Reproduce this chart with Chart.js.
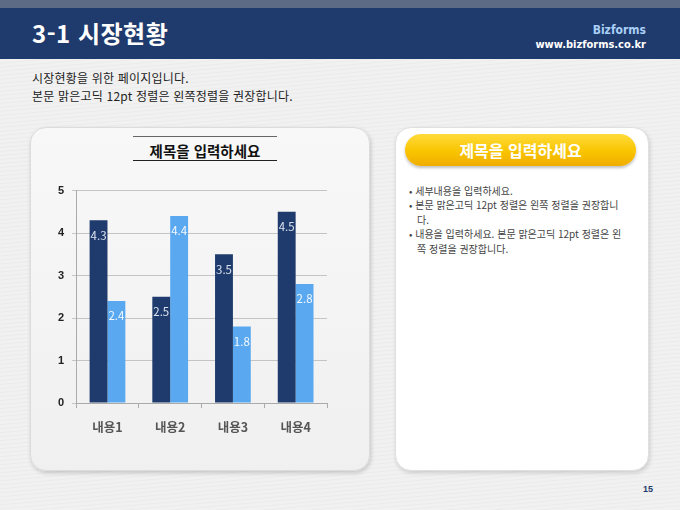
<!DOCTYPE html>
<html lang="ko">
<head>
<meta charset="utf-8">
<script src="https://cdn.jsdelivr.net/npm/chart.js@4/dist/chart.umd.min.js"></script>
<style>
    html, body { margin: 0; padding: 0; }
    body {
        width: 680px; height: 510px; position: relative; overflow: hidden;
        font-family: "Noto Sans CJK KR", "Noto Sans", sans-serif;
        background: repeating-linear-gradient(175deg, #f1f1f1 0px, #f1f1f1 2px, #ebebeb 3px, #f1f1f1 4px);
    }
    .topStrip { position: absolute; left: 0; top: 0; width: 680px; height: 8px; background: #5d6c84; }
    .header { position: absolute; left: 0; top: 8px; width: 680px; height: 51px; background: #1f3a6c; }
    .header h1 { position: absolute; left: 32px; top: 7px; margin: 0; color: #fff; font-size: 24px; font-weight: bold; letter-spacing: 0.5px; }
    .brand { position: absolute; right: 34px; top: 15px; color: #a9cff6; font-family: "DejaVu Sans Condensed", "Liberation Sans Narrow", sans-serif; font-size: 12px; font-weight: bold; text-align: right; }
    .url { position: absolute; right: 34px; top: 30px; color: #fff; font-family: "DejaVu Sans Condensed", "Liberation Sans Narrow", sans-serif; font-size: 11px; font-weight: bold; }
    .intro { position: absolute; left: 32px; top: 69px; font-size: 12px; line-height: 18px; color: #222; letter-spacing: 0.2px; }
    .panelLeft {
        position: absolute; left: 30px; top: 127px; width: 338px; height: 342px;
        border-radius: 16px; background: linear-gradient(180deg, #f8f8f8, #f0f0f0);
        border: 1px solid #dcdcdc; box-shadow: 1px 2px 4px rgba(0,0,0,0.18);
    }
    .chartTitle {
        position: absolute; left: 133px; top: 136px; width: 144px; height: 23px;
        border-top: 1px solid #666; border-bottom: 1px solid #222;
        text-align: center; font-size: 14.5px; font-weight: bold; line-height: 33px; color: #111;
    }
    .chartTitle span { position: relative; top: -3px; }
    #chartBox { position: absolute; left: 40px; top: 176px; width: 300px; height: 271px; }
    .panelRight {
        position: absolute; left: 395px; top: 127px; width: 252px; height: 342px;
        border-radius: 16px; background: #fff;
        border: 1px solid #e0e0e0; box-shadow: 1px 2px 4px rgba(0,0,0,0.15);
    }
    .pill {
        position: absolute; left: 405px; top: 134px; width: 231px; height: 32px; border-radius: 16px;
        background: linear-gradient(180deg, #ffdb3a 0%, #f9c400 55%, #f0ad00 100%);
        box-shadow: 0 2px 3px rgba(0,0,0,0.25);
        color: #fff; font-size: 16px; font-weight: bold; text-align: center; line-height: 32px;
    }
    .bullets { position: absolute; left: 409px; top: 184px; font-size: 10px; line-height: 14.4px; color: #444; white-space: nowrap; }
    .bullets div { padding-left: 8px; text-indent: -8px; }
    .pageNo { position: absolute; left: 643px; top: 484px; font-size: 9px; font-weight: bold; color: #1f3a6c; font-family: "Liberation Sans", sans-serif; }
</style>
</head>
<body>
<div class="topStrip"></div>
<div class="header">
    <h1>3-1 시장현황</h1>
    <div class="brand">Bizforms</div>
    <div class="url">www.bizforms.co.kr</div>
</div>
<div class="intro">
    시장현황을 위한 페이지입니다.<br>
    본문 맑은고딕 12pt 정렬은 왼쪽정렬을 권장합니다.
</div>

<div class="panelLeft"></div>
<div class="chartTitle"><span>제목을 입력하세요</span></div>
<div id="chartBox"><canvas id="barChart"></canvas></div>

<div class="panelRight"></div>
<div class="pill">제목을 입력하세요</div>
<div class="bullets">
    <div>• 세부내용을 입력하세요.</div>
    <div>• 본문 맑은고딕 12pt 정렬은 왼쪽 정렬을 권장합니<br>다.</div>
    <div>• 내용을 입력하세요. 본문 맑은고딕 12pt 정렬은 왼<br>쪽 정렬을 권장합니다.</div>
</div>
<div class="pageNo">15</div>

<script>
// Chart data <------------------------------------------------------------>
const categories = ['내용1', '내용2', '내용3', '내용4'];
const seriesDark = [4.3, 2.5, 3.5, 4.5];
const seriesLight = [2.4, 4.4, 1.8, 2.8];
const yTicks = [0, 1, 2, 3, 4, 5];

// Draws the value just under the top of each bar
const barValueLabels = {
    id: 'barValueLabels',
    afterDatasetsDraw(chart) {
        const ctx = chart.ctx;
        ctx.save();
        ctx.font = '11.5px "Noto Sans CJK KR", sans-serif';
        ctx.textAlign = 'center';
        ctx.textBaseline = 'middle';
        chart.data.datasets.forEach((ds, i) => {
            chart.getDatasetMeta(i).data.forEach((bar, j) => {
                ctx.fillStyle = i === 0 ? '#dbe3ee' : '#f4f8ff';
                ctx.fillText(ds.data[j].toFixed(1), bar.x, bar.y + 15);
            });
        });
        ctx.restore();
    }
};

const ctx = document.getElementById('barChart').getContext('2d');

new Chart(ctx, {
    type: 'bar',
    data: {
        labels: categories,
        datasets: [
            { data: seriesDark, backgroundColor: '#1f3a6c' },
            { data: seriesLight, backgroundColor: '#5aa9f0' }
        ]
    },
    options: {
        responsive: true,
        maintainAspectRatio: false,
        animation: false,
        barPercentage: 1,
        categoryPercentage: 0.57,
        layout: { padding: { left: 10, right: 13, top: 9, bottom: 0 } },
        plugins: {
            legend: { display: false },
            tooltip: { enabled: false }
        },
        scales: {
            x: {
                grid: { offset: true, drawOnChartArea: false, drawTicks: true, tickLength: 5, color: '#aaaaaa' },
                border: { color: '#aaaaaa' },
                ticks: { color: '#555', padding: 12, font: { size: 12.5, weight: 'bold', family: '"Noto Sans CJK KR", sans-serif' } }
            },
            y: {
                min: 0,
                max: 5,
                afterBuildTicks: axis => { axis.ticks = yTicks.map(v => ({ value: v })); },
                grid: { color: '#c4c4c4', drawTicks: true, tickLength: 4 },
                border: { color: '#aaaaaa' },
                ticks: { color: '#222', padding: 8, font: { size: 11, weight: 'bold', family: '"Liberation Sans", sans-serif' } }
            }
        }
    },
    plugins: [barValueLabels]
});
</script>
</body>
</html>
